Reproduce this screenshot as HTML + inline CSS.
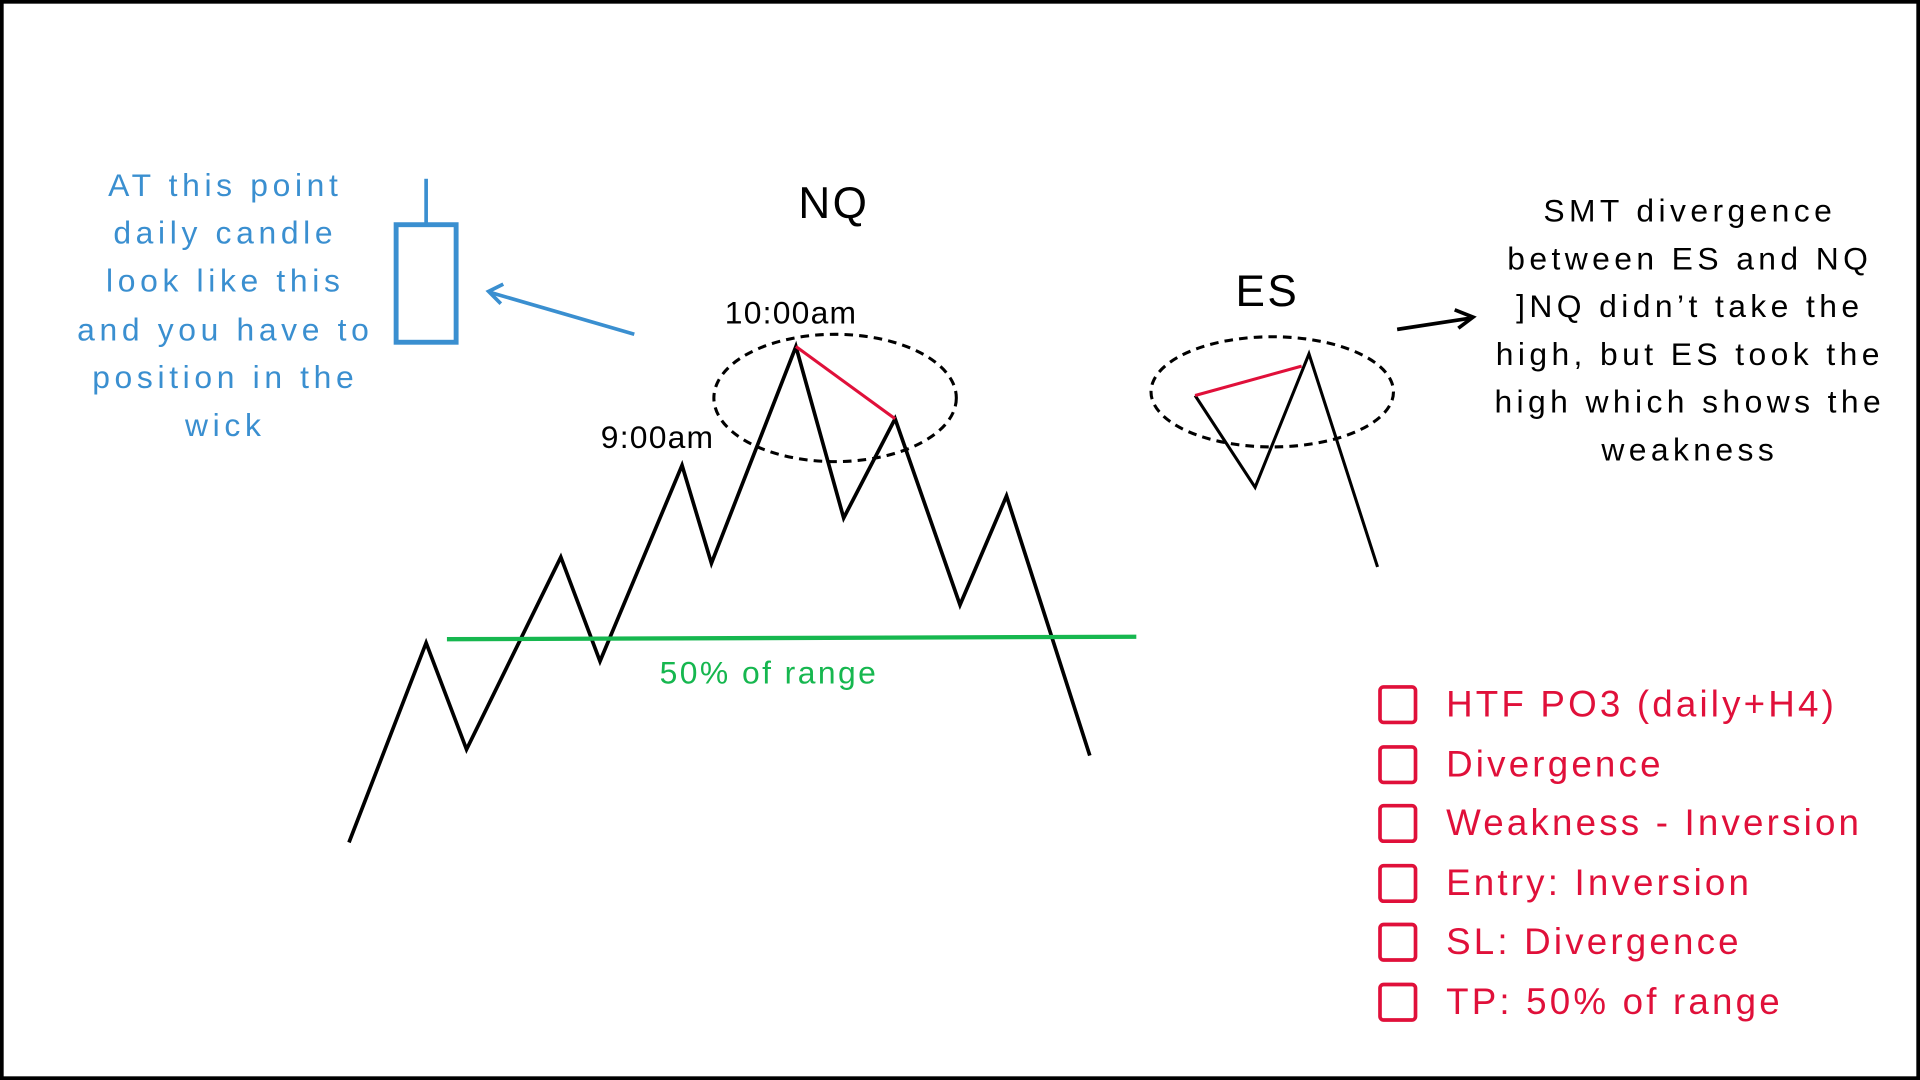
<!DOCTYPE html>
<html><head><meta charset="utf-8"><style>
html,body{margin:0;padding:0;background:#fff;width:1920px;height:1080px;overflow:hidden}
svg{display:block}
text{font-family:"Liberation Sans",sans-serif}
</style></head><body>
<svg width="1920" height="1080" viewBox="0 0 1568 882" xmlns="http://www.w3.org/2000/svg">
<rect x="1.5" y="1.5" width="1565" height="879" fill="#fff" stroke="#000" stroke-width="3"/>
<!-- NQ -->
<text x="681" y="178" font-size="36" text-anchor="middle" fill="#000" letter-spacing="2">NQ</text>
<text x="646" y="264" font-size="26" text-anchor="middle" fill="#000" letter-spacing="1">10:00am</text>
<text x="537" y="366" font-size="26" text-anchor="middle" fill="#000" letter-spacing="1">9:00am</text>
<polyline points="285,688 348,525 381,612 458,455 490,540 557,380 581,460 650,283 689,423 731,342 784,494 822,405 890,617" fill="none" stroke="#000" stroke-width="3" stroke-linejoin="miter"/>
<line x1="650" y1="283" x2="731" y2="342" stroke="#e0103a" stroke-width="2.5"/>
<ellipse cx="682" cy="325" rx="99" ry="52" fill="none" stroke="#000" stroke-width="2.5" stroke-dasharray="7,5"/>
<line x1="365" y1="522" x2="928" y2="520" stroke="#16b74f" stroke-width="3.5"/>
<text x="628" y="558" font-size="26" text-anchor="middle" fill="#16b74f" letter-spacing="2">50% of range</text>
<!-- ES -->
<text x="1035" y="250" font-size="36" text-anchor="middle" fill="#000" letter-spacing="2">ES</text>
<polyline points="976,323 1025,398 1069,289 1125,463" fill="none" stroke="#000" stroke-width="2.5"/>
<line x1="976" y1="323" x2="1063" y2="299" stroke="#e0103a" stroke-width="2.5"/>
<ellipse cx="1039" cy="320" rx="99" ry="45" fill="none" stroke="#000" stroke-width="2.5" stroke-dasharray="7,5"/>
<line x1="1141" y1="269" x2="1200" y2="260" stroke="#000" stroke-width="3"/>
<polyline points="1188,253 1203,259 1191,268" fill="none" stroke="#000" stroke-width="3"/>
<g font-size="26" text-anchor="middle" fill="#000" letter-spacing="3.6">
<text x="1380" y="181">SMT divergence</text>
<text x="1380" y="220">between ES and NQ</text>
<text x="1380" y="259">]NQ didn’t take the</text>
<text x="1380" y="298">high, but ES took the</text>
<text x="1380" y="337">high which shows the</text>
<text x="1380" y="376">weakness</text>
</g>
<!-- candle -->
<line x1="348" y1="146" x2="348" y2="183" stroke="#3a8fd0" stroke-width="3"/>
<rect x="323.5" y="183.5" width="49" height="96" fill="none" stroke="#3a8fd0" stroke-width="4"/>
<line x1="518" y1="273" x2="401" y2="239" stroke="#3a8fd0" stroke-width="3"/>
<polyline points="411,232 399,238 409,248" fill="none" stroke="#3a8fd0" stroke-width="3"/>
<g font-size="26" text-anchor="middle" fill="#3a8fd0" letter-spacing="3.8">
<text x="184" y="160">AT this point</text>
<text x="184" y="199">daily candle</text>
<text x="184" y="238">look like this</text>
<text x="184" y="278">and you have to</text>
<text x="184" y="317">position in the</text>
<text x="184" y="356">wick</text>
</g>
<!-- checklist -->
<g fill="none" stroke="#e0103a" stroke-width="3">
<rect x="1127" y="561" width="29" height="29" rx="3"/>
<rect x="1127" y="610" width="29" height="29" rx="3"/>
<rect x="1127" y="658" width="29" height="29" rx="3"/>
<rect x="1127" y="707" width="29" height="29" rx="3"/>
<rect x="1127" y="755" width="29" height="29" rx="3"/>
<rect x="1127" y="804" width="29" height="29" rx="3"/>
</g>
<g font-size="30" fill="#e0103a" letter-spacing="2.6">
<text x="1181" y="585">HTF PO3 (daily+H4)</text>
<text x="1181" y="634">Divergence</text>
<text x="1181" y="682">Weakness - Inversion</text>
<text x="1181" y="731">Entry: Inversion</text>
<text x="1181" y="779">SL: Divergence</text>
<text x="1181" y="828">TP: 50% of range</text>
</g>
</svg>
</body></html>
